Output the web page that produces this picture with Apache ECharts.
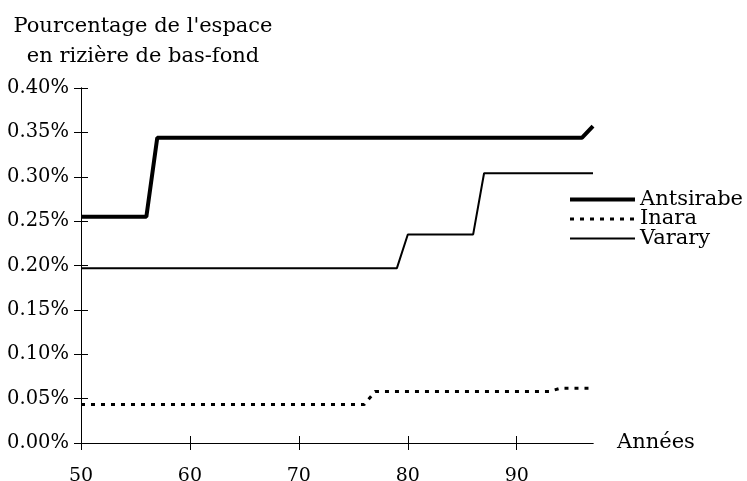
<!DOCTYPE html>
<html>
<head>
<meta charset="utf-8">
<script src="https://cdn.jsdelivr.net/npm/echarts@6/dist/echarts.min.js"></script>
<style>
  html, body { margin: 0; padding: 0; background: #fff; }
  #chart { width: 747px; height: 481px; }
</style>
</head>
<body>
<div id="chart"></div>
<script>
// Share of lowland rice-field area (%), by year (19xx); breakpoints of each step curve
const antsirabeYears = [50, 56, 57, 96, 97];
const antsirabeValues = [0.255, 0.255, 0.344, 0.344, 0.357];

const inaraYears = [50, 76, 77, 93, 94, 97];
const inaraValues = [0.0434, 0.0434, 0.058, 0.058, 0.0617, 0.0617];

const vararyYears = [50, 79, 80, 86, 87, 97];
const vararyValues = [0.197, 0.197, 0.235, 0.235, 0.304, 0.304];

const xTickValues = [50, 60, 70, 80, 90];
const seriesNames = ['Antsirabe', 'Inara', 'Varary'];

const FONT = 'DejaVu Serif';
const TEXT_SIZE = 21;
const NUM_SIZE = 19.5;

function pairs(xs, ys) {
  return xs.map((x, i) => [x, ys[i]]);
}

const chart = echarts.init(document.getElementById('chart'));

const baseX = {
  type: 'value', min: 50, max: 97, interval: 10, position: 'bottom',
  splitLine: { show: false },
  axisLine: { show: true, onZero: false, lineStyle: { color: '#000', width: 1 } }
};
const baseY = {
  type: 'value', min: 0, max: 0.4, interval: 0.05, position: 'left',
  splitLine: { show: false },
  axisLine: { show: true, onZero: false, lineStyle: { color: '#000', width: 1 } }
};

// legend swatch: line only, the marker is hidden
const noMarker = { color: 'rgba(0,0,0,0)', borderColor: 'rgba(0,0,0,0)', borderWidth: 0 };

chart.setOption({
  animation: false,
  backgroundColor: '#fff',
  textStyle: { fontFamily: FONT, color: '#000' },
  grid: { left: 81, top: 88, width: 512, height: 355, outerBoundsMode: 'none', containLabel: false },
  graphic: [{
    type: 'text',
    style: {
      text: "Pourcentage de l'espace\nen rizière de bas-fond",
      x: 143, y: 12, textAlign: 'center',
      font: TEXT_SIZE + 'px "' + FONT + '"', lineHeight: 30, fill: '#000'
    }
  }],
  legend: {
    orient: 'vertical', left: 563, top: 184,
    itemWidth: 65, itemHeight: 12, itemGap: -1.5,
    textStyle: { fontFamily: FONT, fontSize: TEXT_SIZE, lineHeight: 18.5, color: '#000' },
    data: [
      { name: seriesNames[0], lineStyle: { width: 4, color: '#000' }, itemStyle: noMarker },
      { name: seriesNames[1], lineStyle: { width: 3, type: [4, 6], color: '#000' }, itemStyle: noMarker },
      { name: seriesNames[2], lineStyle: { width: 2, color: '#000' }, itemStyle: noMarker }
    ]
  },
  xAxis: [
    Object.assign({}, baseX, {
      name: 'Années', nameLocation: 'end', nameGap: 24,
      nameTextStyle: { fontFamily: FONT, fontSize: TEXT_SIZE, color: '#000', verticalAlign: 'middle' },
      axisTick: { show: true, inside: false, length: 7, customValues: xTickValues, lineStyle: { color: '#000' } },
      axisLabel: { customValues: xTickValues, margin: 23.5, fontFamily: FONT, fontSize: 19, color: '#000' }
    }),
    Object.assign({}, baseX, {
      axisTick: { show: true, inside: true, length: 7, customValues: xTickValues, lineStyle: { color: '#000' } },
      axisLabel: { show: false }
    })
  ],
  yAxis: [
    Object.assign({}, baseY, {
      axisTick: { show: true, inside: false, length: 7, lineStyle: { color: '#000' } },
      axisLabel: {
        margin: 12, fontFamily: FONT, fontSize: NUM_SIZE, color: '#000',
        formatter: v => v.toFixed(2) + '%'
      }
    }),
    Object.assign({}, baseY, {
      axisTick: { show: true, inside: true, length: 7, lineStyle: { color: '#000' } },
      axisLabel: { show: false }
    })
  ],
  series: [
    {
      name: seriesNames[0], type: 'line', symbol: 'none',
      data: pairs(antsirabeYears, antsirabeValues),
      lineStyle: { color: '#000', width: 4 }, itemStyle: { color: '#000' }
    },
    {
      name: seriesNames[1], type: 'line', symbol: 'none',
      data: pairs(inaraYears, inaraValues),
      lineStyle: { color: '#000', width: 3, type: [4, 6] }, itemStyle: { color: '#000' }
    },
    {
      name: seriesNames[2], type: 'line', symbol: 'none',
      data: pairs(vararyYears, vararyValues),
      lineStyle: { color: '#000', width: 2 }, itemStyle: { color: '#000' }
    }
  ]
});
</script>
</body>
</html>
